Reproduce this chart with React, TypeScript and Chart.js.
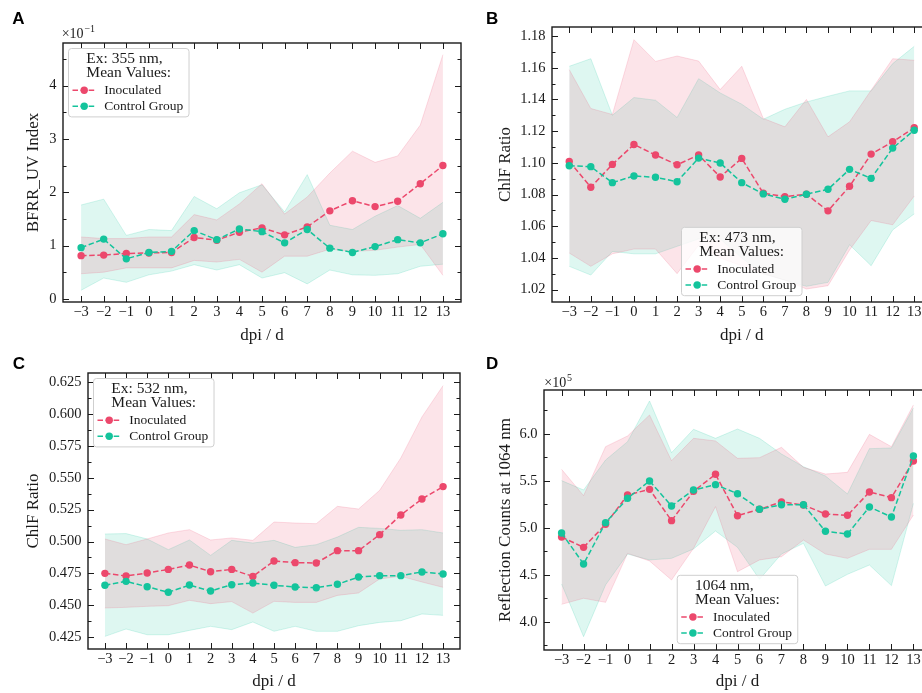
import React, { useEffect, useRef } from "react";
import { Chart, registerables } from "chart.js";

Chart.register(...registerables);
Chart.defaults.font.family = "'Liberation Serif', 'Times New Roman', serif";

// ---------- data ----------
const DPI = [-3, -2, -1, 0, 1, 2, 3, 4, 5, 6, 7, 8, 9, 10, 11, 12, 13];

// Panel A: BFRR_UV Index (x10^-1), Ex 355 nm
const A_INOC_MEAN = [0.81, 0.82, 0.85, 0.86, 0.87, 1.15, 1.10, 1.25, 1.33, 1.20, 1.35, 1.65, 1.84, 1.73, 1.83, 2.16, 2.50];
const A_INOC_UP = [1.16, 1.13, 1.13, 1.16, 1.16, 1.58, 1.48, 1.78, 2.16, 1.59, 1.91, 2.36, 2.77, 2.56, 2.68, 3.26, 4.58];
const A_INOC_LO = [0.47, 0.50, 0.58, 0.58, 0.58, 0.72, 0.69, 0.74, 0.50, 0.80, 0.80, 0.93, 0.89, 0.91, 0.97, 1.02, 0.44];
const A_CTRL_MEAN = [0.96, 1.12, 0.75, 0.87, 0.89, 1.28, 1.11, 1.31, 1.26, 1.05, 1.30, 0.95, 0.87, 0.98, 1.11, 1.05, 1.22];
const A_CTRL_UP = [1.76, 1.87, 1.19, 1.30, 1.28, 1.92, 1.69, 1.99, 2.14, 1.63, 2.33, 1.38, 1.30, 1.55, 1.75, 1.51, 1.81];
const A_CTRL_LO = [0.16, 0.39, 0.31, 0.45, 0.52, 0.64, 0.54, 0.64, 0.39, 0.49, 0.28, 0.54, 0.45, 0.44, 0.47, 0.61, 0.65];

// Panel B: ChlF Ratio, Ex 473 nm
const B_INOC_MEAN = [1.1009, 1.0846, 1.0990, 1.1116, 1.1049, 1.0988, 1.1049, 1.0911, 1.1028, 1.0808, 1.0787, 1.0802, 1.0697, 1.0852, 1.1055, 1.1133, 1.1221];
const B_INOC_UP = [1.1588, 1.1343, 1.1305, 1.1777, 1.1640, 1.1674, 1.1642, 1.1462, 1.1609, 1.1280, 1.1227, 1.1400, 1.1164, 1.1259, 1.1458, 1.1657, 1.1647];
const B_INOC_LO = [1.0431, 1.0347, 1.0426, 1.0456, 1.0456, 1.0301, 1.0480, 1.0400, 1.0350, 1.0300, 1.0260, 1.0204, 1.0225, 1.0450, 1.0636, 1.0609, 1.0791];
const B_CTRL_MEAN = [1.0982, 1.0976, 1.0875, 1.0917, 1.0909, 1.0881, 1.1030, 1.0999, 1.0875, 1.0804, 1.0770, 1.0802, 1.0833, 1.0959, 1.0902, 1.1093, 1.1206];
const B_CTRL_UP = [1.1609, 1.1657, 1.1300, 1.1412, 1.1395, 1.1286, 1.1531, 1.1441, 1.1370, 1.1275, 1.1338, 1.1384, 1.1420, 1.1454, 1.1454, 1.1626, 1.1735];
const B_CTRL_LO = [1.0347, 1.0292, 1.0441, 1.0426, 1.0426, 1.0473, 1.0520, 1.0520, 1.0400, 1.0300, 1.0260, 1.0221, 1.0246, 1.0483, 1.0351, 1.0577, 1.0678];

// Panel C: ChlF Ratio, Ex 532 nm
const C_INOC_MEAN = [0.4750, 0.4729, 0.4753, 0.4781, 0.4815, 0.4763, 0.4781, 0.4726, 0.4847, 0.4834, 0.4831, 0.4928, 0.4928, 0.5054, 0.5208, 0.5334, 0.5431];
const C_INOC_UP = [0.5020, 0.4975, 0.5020, 0.5067, 0.5093, 0.5012, 0.5028, 0.5009, 0.5153, 0.5145, 0.5140, 0.5276, 0.5255, 0.5402, 0.5656, 0.5978, 0.6224];
const C_INOC_LO = [0.4478, 0.4483, 0.4491, 0.4496, 0.4538, 0.4512, 0.4528, 0.4438, 0.4530, 0.4522, 0.4522, 0.4577, 0.4596, 0.4706, 0.4727, 0.4682, 0.4640];
const C_CTRL_MEAN = [0.4656, 0.4687, 0.4645, 0.4601, 0.4658, 0.4611, 0.4661, 0.4674, 0.4656, 0.4643, 0.4637, 0.4664, 0.4721, 0.4732, 0.4732, 0.4761, 0.4745];
const C_CTRL_UP = [0.5059, 0.5062, 0.5020, 0.4936, 0.5012, 0.4891, 0.5009, 0.4988, 0.5009, 0.4954, 0.4975, 0.5035, 0.5111, 0.5103, 0.5088, 0.5093, 0.5067];
const C_CTRL_LO = [0.4255, 0.4313, 0.4268, 0.4268, 0.4302, 0.4334, 0.4308, 0.4368, 0.4295, 0.4334, 0.4295, 0.4295, 0.4339, 0.4365, 0.4378, 0.4431, 0.4420];

// Panel D: Reflection counts at 1064 nm (x10^5)
const D_INOC_MEAN = [4.904, 4.794, 5.039, 5.351, 5.411, 5.078, 5.390, 5.571, 5.131, 5.199, 5.277, 5.245, 5.149, 5.135, 5.383, 5.323, 5.713];
const D_INOC_UP = [5.624, 5.344, 5.865, 5.979, 6.202, 5.716, 5.954, 5.926, 5.741, 5.748, 5.858, 5.645, 5.574, 5.592, 5.996, 5.865, 6.309];
const D_INOC_LO = [4.188, 4.252, 4.209, 4.730, 4.649, 4.447, 4.784, 5.227, 4.535, 4.660, 4.695, 4.872, 4.723, 4.677, 4.773, 4.773, 5.138];
const D_CTRL_MEAN = [4.947, 4.617, 5.057, 5.316, 5.500, 5.234, 5.404, 5.461, 5.365, 5.199, 5.248, 5.248, 4.965, 4.936, 5.223, 5.117, 5.766];
const D_CTRL_UP = [5.504, 5.404, 5.723, 5.918, 6.351, 5.801, 6.050, 5.954, 6.053, 5.954, 5.787, 5.652, 5.553, 5.362, 5.844, 5.851, 6.277];
const D_CTRL_LO = [4.404, 3.844, 4.394, 4.723, 4.660, 4.677, 4.777, 4.968, 4.794, 4.454, 4.723, 4.837, 4.383, 4.507, 4.606, 4.387, 5.262];

const SERIES_LABELS = ["Inoculated", "Control Group"];
const X_TITLE = "dpi / d";

// ---------- style ----------
const PINK = [236, 72, 108];
const TEAL = [20, 196, 156];
const rgba = (c: number[], a: number) => `rgba(${c[0]},${c[1]},${c[2]},${a})`;
const SERIF = "'Liberation Serif', 'Times New Roman', serif";
const SANS = "'Liberation Sans', Arial, sans-serif";
const INK = "#1a1a1a";

const fmtMinus = (s: string) => s.replace("-", "\u2212");

type Spec = {
  letter: string;
  letterPos: [number, number];
  canvas: { left: number; top: number; w: number; h: number };
  plot: { l: number; t: number; r: number; b: number };
  yMin: number; yMax: number; yStep: number; yMinor: number; yDec: number;
  yTitle: string; yTitlePad: number; xTitlePad: number;
  legendTitle: string[]; legendLoc: "ul" | "lc";
  offsetText?: { base: string; sup: string; x: number; y: number };
  inoc: number[][]; ctrl: number[][];
};

const PANELS: Spec[] = [
  {
    letter: "A", letterPos: [12.3, 24],
    canvas: { left: 0, top: 0, w: 470, h: 350 },
    plot: { l: 63, t: 43, r: 461, b: 302 },
    yMin: -0.06, yMax: 4.8, yStep: 1, yMinor: 0.5, yDec: 0,
    yTitle: "BFRR_UV Index", yTitlePad: 23, xTitlePad: 3.8,
    legendTitle: ["Ex: 355 nm,", "Mean Values:"], legendLoc: "ul",
    offsetText: { base: "\u00d710", sup: "\u22121", x: 61.7, y: 37.7 },
    inoc: [A_INOC_MEAN, A_INOC_UP, A_INOC_LO], ctrl: [A_CTRL_MEAN, A_CTRL_UP, A_CTRL_LO],
  },
  {
    letter: "B", letterPos: [25, 23.5],
    canvas: { left: 461, top: 0, w: 475, h: 350 },
    plot: { l: 552, t: 27, r: 931.5, b: 302 },
    yMin: 1.0122, yMax: 1.1857, yStep: 0.02, yMinor: 0.01, yDec: 2,
    yTitle: "ChlF Ratio", yTitlePad: 34, xTitlePad: 3.8,
    legendTitle: ["Ex: 473 nm,", "Mean Values:"], legendLoc: "lc",
    inoc: [B_INOC_MEAN, B_INOC_UP, B_INOC_LO], ctrl: [B_CTRL_MEAN, B_CTRL_UP, B_CTRL_LO],
  },
  {
    letter: "C", letterPos: [12.7, 19],
    canvas: { left: 0, top: 350, w: 470, h: 343 },
    plot: { l: 88, t: 373, r: 460, b: 649 },
    yMin: 0.4156, yMax: 0.6323, yStep: 0.025, yMinor: 0.0125, yDec: 3,
    yTitle: "ChlF Ratio", yTitlePad: 23, xTitlePad: 1.1,
    legendTitle: ["Ex: 532 nm,", "Mean Values:"], legendLoc: "ul",
    inoc: [C_INOC_MEAN, C_INOC_UP, C_INOC_LO], ctrl: [C_CTRL_MEAN, C_CTRL_UP, C_CTRL_LO],
  },
  {
    letter: "D", letterPos: [25, 19],
    canvas: { left: 461, top: 350, w: 475, h: 343 },
    plot: { l: 544, t: 390, r: 931, b: 650 },
    yMin: 3.702, yMax: 6.468, yStep: 0.5, yMinor: 0.25, yDec: 1,
    yTitle: "Reflection Counts at 1064 nm", yTitlePad: 34.8, xTitlePad: 1.1,
    legendTitle: ["1064 nm,", "Mean Values:"], legendLoc: "lc",
    offsetText: { base: "\u00d710", sup: "5", x: 83.3, y: 36.7 },
    inoc: [D_INOC_MEAN, D_INOC_UP, D_INOC_LO], ctrl: [D_CTRL_MEAN, D_CTRL_UP, D_CTRL_LO],
  },
];

const pts = (vals: number[]) => DPI.map((x, i) => ({ x, y: vals[i] }));

function bandSets(up: number[], lo: number[], c: number[], a: number) {
  return [
    { label: "band-up", data: pts(up), fill: "+1", backgroundColor: rgba(c, a), borderColor: rgba(c, 0.22), borderWidth: 0.8, pointRadius: 0, tension: 0, order: 5 },
    { label: "band-lo", data: pts(lo), fill: false, backgroundColor: rgba(c, a), borderColor: rgba(c, 0.22), borderWidth: 0.8, pointRadius: 0, tension: 0, order: 5 },
  ];
}

function meanSet(label: string, vals: number[], c: number[], order: number) {
  return {
    label, data: pts(vals), fill: false, borderColor: rgba(c, 1), backgroundColor: rgba(c, 1),
    borderWidth: 1.5, borderDash: [5.5, 2.6], pointRadius: 3.7, pointBorderWidth: 0,
    pointBackgroundColor: rgba(c, 1), tension: 0, order,
  };
}

function makePlugin(spec: Spec) {
  return {
    id: "decor" + spec.letter,
    afterDraw(chart: any) {
      const ctx = chart.ctx;
      const { left, right, top, bottom } = chart.chartArea;
      const xs = chart.scales.x, ys = chart.scales.y;
      ctx.save();
      // inward ticks
      ctx.strokeStyle = INK;
      ctx.lineWidth = 1;
      ctx.beginPath();
      for (const v of DPI) {
        const px = Math.round(xs.getPixelForValue(v)) + 0.5;
        ctx.moveTo(px, bottom); ctx.lineTo(px, bottom - 6);
        ctx.moveTo(px, top); ctx.lineTo(px, top + 6);
      }
      const k0 = Math.ceil(spec.yMin / spec.yMinor - 1e-9);
      const k1 = Math.floor(spec.yMax / spec.yMinor + 1e-9);
      for (let k = k0; k <= k1; k++) {
        const v = k * spec.yMinor;
        const r = v / spec.yStep;
        const major = Math.abs(r - Math.round(r)) < 1e-6;
        const len = major ? 6 : 3.5;
        const py = Math.round(ys.getPixelForValue(v)) + 0.5;
        ctx.moveTo(left, py); ctx.lineTo(left + len, py);
        ctx.moveTo(right, py); ctx.lineTo(right - len, py);
      }
      ctx.stroke();
      // frame
      ctx.lineWidth = 1.4;
      ctx.strokeRect(left, top, right - left, bottom - top);

      // legend
      const titleFont = `15.5px ${SERIF}`;
      const entryFont = `13.5px ${SERIF}`;
      ctx.font = titleFont;
      const tw = Math.max(...spec.legendTitle.map((t) => ctx.measureText(t).width));
      ctx.font = entryFont;
      const lw = Math.max(...SERIES_LABELS.map((t) => ctx.measureText(t).width));
      const labelX = 35.7;
      const w = Math.max(labelX + lw + 5.7, tw + 24);
      const h = 68.4;
      let bx: number, by: number;
      if (spec.legendLoc === "ul") { bx = left + 5.5; by = top + 5.5; }
      else { bx = (left + right) / 2 - w / 2; by = bottom - 6.3 - h; }
      const rad = 3;
      ctx.beginPath();
      ctx.moveTo(bx + rad, by);
      ctx.arcTo(bx + w, by, bx + w, by + h, rad);
      ctx.arcTo(bx + w, by + h, bx, by + h, rad);
      ctx.arcTo(bx, by + h, bx, by, rad);
      ctx.arcTo(bx, by, bx + w, by, rad);
      ctx.closePath();
      ctx.fillStyle = "rgba(255,255,255,0.8)";
      ctx.fill();
      ctx.strokeStyle = "#cfcfcf";
      ctx.lineWidth = 1;
      ctx.stroke();
      ctx.fillStyle = INK;
      ctx.textBaseline = "middle";
      ctx.textAlign = "left";
      ctx.font = titleFont;
      const tx = bx + (w - tw) / 2;
      ctx.fillText(spec.legendTitle[0], tx, by + 10.5);
      ctx.fillText(spec.legendTitle[1], tx, by + 24.5);
      const cols = [PINK, TEAL];
      [41.7, 57.7].forEach((dy, i) => {
        const yy = by + dy;
        ctx.strokeStyle = rgba(cols[i], 1);
        ctx.lineWidth = 1.5;
        ctx.setLineDash([5.5, 2.6]);
        ctx.beginPath();
        ctx.moveTo(bx + 4, yy); ctx.lineTo(bx + 27.4, yy);
        ctx.stroke();
        ctx.setLineDash([]);
        ctx.fillStyle = rgba(cols[i], 1);
        ctx.beginPath();
        ctx.arc(bx + 15.7, yy, 3.7, 0, Math.PI * 2);
        ctx.fill();
        ctx.fillStyle = INK;
        ctx.font = entryFont;
        ctx.fillText(SERIES_LABELS[i], bx + labelX, yy + 0.5);
      });

      // panel letter
      ctx.textBaseline = "alphabetic";
      ctx.font = `bold 17px ${SANS}`;
      ctx.fillStyle = "#000";
      ctx.fillText(spec.letter, spec.letterPos[0], spec.letterPos[1]);

      // offset text
      if (spec.offsetText) {
        const o = spec.offsetText;
        ctx.font = `14px ${SERIF}`;
        ctx.fillStyle = INK;
        ctx.fillText(o.base, o.x, o.y);
        const bw = ctx.measureText(o.base).width;
        ctx.font = `10px ${SERIF}`;
        ctx.fillText(o.sup, o.x + bw + 0.8, o.y - 5.5);
      }
      ctx.restore();
    },
  };
}

function makeConfig(spec: Spec): any {
  const cv = spec.canvas, pl = spec.plot;
  const datasets: any[] = [
    ...bandSets(spec.inoc[1], spec.inoc[2], PINK, 0.15),
    ...bandSets(spec.ctrl[1], spec.ctrl[2], TEAL, 0.14),
    meanSet(SERIES_LABELS[0], spec.inoc[0], PINK, 2),
    meanSet(SERIES_LABELS[1], spec.ctrl[0], TEAL, 1),
  ];
  return {
    type: "line",
    data: { datasets },
    options: {
      responsive: false,
      maintainAspectRatio: false,
      animation: false,
      devicePixelRatio: 1,
      events: [],
      layout: { padding: { left: 0, top: pl.t - cv.top, right: cv.left + cv.w - pl.r, bottom: 0 } },
      plugins: { legend: { display: false }, tooltip: { enabled: false }, title: { display: false } },
      scales: {
        x: {
          type: "linear", min: -3.8, max: 13.8,
          grid: { display: false, drawTicks: false }, border: { display: false },
          ticks: {
            stepSize: 1, includeBounds: false, padding: 1.5, color: INK, autoSkip: false, maxRotation: 0,
            font: { size: 14.5, family: SERIF },
            callback: (v: number) => fmtMinus(String(Math.round(v))),
          },
          title: { display: true, text: X_TITLE, color: INK, font: { size: 17, family: SERIF }, padding: { top: 0, bottom: spec.xTitlePad } },
          afterFit: (s: any) => { s.height = cv.top + cv.h - pl.b; },
        },
        y: {
          type: "linear", min: spec.yMin, max: spec.yMax,
          grid: { display: false, drawTicks: false }, border: { display: false },
          ticks: {
            stepSize: spec.yStep, includeBounds: false, padding: 6.5, color: INK,
            font: { size: 14.5, family: SERIF },
            callback: (v: number) => Number(v).toFixed(spec.yDec),
          },
          title: { display: true, text: spec.yTitle, color: INK, font: { size: 17, family: SERIF }, padding: { top: spec.yTitlePad, bottom: 0 } },
          afterFit: (s: any) => { s.width = pl.l - cv.left; },
        },
      },
    },
    plugins: [makePlugin(spec)],
  };
}

function Panel({ spec }: { spec: Spec }) {
  const ref = useRef<HTMLCanvasElement | null>(null);
  useEffect(() => {
    if (!ref.current) return;
    const chart = new Chart(ref.current, makeConfig(spec));
    return () => chart.destroy();
  }, [spec]);
  const c = spec.canvas;
  return (
    <canvas
      ref={ref}
      width={c.w}
      height={c.h}
      style={{ position: "absolute", left: c.left, top: c.top, width: c.w, height: c.h }}
    />
  );
}

export default function App() {
  return (
    <div style={{ position: "fixed", left: 0, top: 0, width: 922, height: 693, overflow: "hidden", background: "#ffffff" }}>
      {PANELS.map((p) => (
        <Panel key={p.letter} spec={p} />
      ))}
    </div>
  );
}
